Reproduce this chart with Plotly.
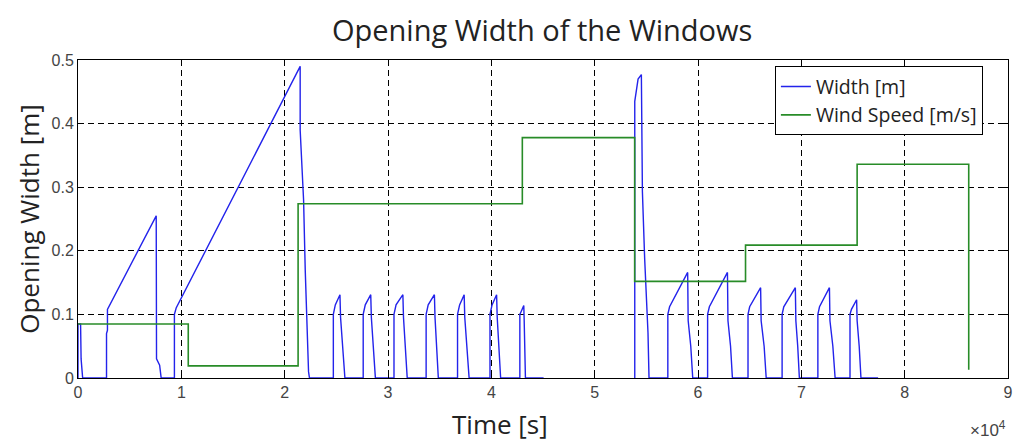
import plotly.graph_objects as go

# Time axis ticks (seconds, labelled in units of 1e4)
x_tick_vals = [0, 10000, 20000, 30000, 40000, 50000, 60000, 70000, 80000, 90000]
x_tick_text = ["0", "1", "2", "3", "4", "5", "6", "7", "8", "9"]

y_tick_vals = [0, 0.1, 0.2, 0.3, 0.4, 0.5]
y_tick_text = ["0", "0.1", "0.2", "0.3", "0.4", "0.5"]

# Window opening width [m]: (time [s], width) breakpoints; None splits the two runs
width_points = [
    (0, 0), (0, 0.085), (250, 0.085), (300, 0.03), (450, 0),
    (2760, 0), (2760, 0.07), (2850, 0.075), (2850, 0.108), (7570, 0.255),
    (7600, 0.03), (7900, 0.02), (8050, 0),
    (9330, 0), (9330, 0.10), (9500, 0.11), (21500, 0.49), (21500, 0.39),
    (21830, 0.28), (21990, 0.17), (22310, 0.01), (22400, 0),
    (24710, 0), (24710, 0.10), (24900, 0.115), (25350, 0.131), (25410, 0.095),
    (25700, 0.03), (25830, 0),
    (27600, 0), (27600, 0.10), (27800, 0.115), (28330, 0.131), (28390, 0.095),
    (28650, 0.03), (28780, 0),
    (30580, 0), (30580, 0.10), (30780, 0.115), (31440, 0.131), (31500, 0.095),
    (31730, 0.03), (31860, 0),
    (33690, 0), (33690, 0.10), (33890, 0.115), (34490, 0.131), (34550, 0.095),
    (34750, 0.03), (34870, 0),
    (36730, 0), (36730, 0.10), (36930, 0.115), (37370, 0.131), (37430, 0.095),
    (37720, 0.03), (37850, 0),
    (39870, 0), (39870, 0.10), (40070, 0.115), (40510, 0.131), (40570, 0.095),
    (40780, 0.03), (40900, 0),
    (42760, 0), (42760, 0.10), (42900, 0.105), (43140, 0.114), (43180, 0.09),
    (43250, 0.03), (43300, 0),
    (45060, 0),
    (None, None),
    (53880, 0), (53880, 0.435), (54200, 0.47), (54520, 0.477), (54620, 0.293),
    (54840, 0.187), (55160, 0.071), (55260, 0),
    (57080, 0), (57080, 0.10), (57250, 0.112), (59000, 0.166), (59050, 0.09),
    (59300, 0.05), (59490, 0),
    (60930, 0), (60930, 0.10), (61100, 0.112), (62850, 0.166), (62900, 0.09),
    (63150, 0.05), (63330, 0),
    (64840, 0), (64840, 0.10), (65000, 0.112), (66060, 0.142), (66110, 0.09),
    (66400, 0.05), (66600, 0),
    (68140, 0), (68140, 0.10), (68300, 0.112), (69420, 0.142), (69470, 0.09),
    (69650, 0.05), (69810, 0),
    (71600, 0), (71600, 0.10), (71760, 0.112), (72720, 0.142), (72770, 0.09),
    (73050, 0.05), (73270, 0),
    (74710, 0), (74710, 0.10), (74850, 0.108), (75350, 0.123), (75400, 0.09),
    (75600, 0.05), (75770, 0),
    (77430, 0),
]

# Wind speed (scaled) as a step signal: value holds from each time to the next
wind_time = [0, 10670, 21300, 43000, 53870, 64600, 75400, 86200]
wind_value = [0.085, 0.019, 0.274, 0.378, 0.152, 0.209, 0.336, 0.013]

width_time = [p[0] for p in width_points]
width_value = [p[1] for p in width_points]

fig = go.Figure()
fig.add_trace(go.Scatter(
    x=width_time, y=width_value, mode="lines", name="Width [m]",
    line=dict(color="rgb(35,35,235)", width=1.4), connectgaps=False,
))
fig.add_trace(go.Scatter(
    x=wind_time, y=wind_value, mode="lines", name="Wind Speed [m/s]",
    line=dict(color="rgb(40,140,40)", width=1.6, shape="hv"),
))

axis_common = dict(
    showline=True, linecolor="black", linewidth=1, mirror="ticks",
    showgrid=True, gridcolor="black", gridwidth=1, griddash="6px,4px",
    zeroline=False, ticks="inside", ticklen=5, tickcolor="black",
    tickfont=dict(family="Liberation Sans", size=16, color="#444"),
)

fig.update_layout(
    width=1019, height=443,
    margin=dict(l=78, r=6, t=60, b=65),
    paper_bgcolor="white", plot_bgcolor="white",
    title=dict(text="Opening Width of the Windows", x=0.532, xanchor="center",
               y=0.93, yanchor="middle",
               font=dict(family="Open Sans", size=29, color="#222")),
    xaxis=dict(range=[0, 90000], tickvals=x_tick_vals, ticktext=x_tick_text,
               **axis_common),
    yaxis=dict(range=[0, 0.5], tickvals=y_tick_vals, ticktext=y_tick_text,
               title=dict(text="Opening Width [m]", standoff=4,
                          font=dict(family="Open Sans", size=26, color="#222")),
               **axis_common),
    legend=dict(x=0.973, y=0.98, xanchor="right", yanchor="top",
                bgcolor="white", bordercolor="black", borderwidth=1,
                font=dict(family="Open Sans", size=19.5, color="#222"),
                tracegroupgap=0, itemwidth=30),
    showlegend=True,
)

fig.add_annotation(text="Time [s]", xref="paper", yref="paper",
                   x=(502 - 78) / 935, y=-0.145, xanchor="center", yanchor="middle",
                   showarrow=False,
                   font=dict(family="Open Sans", size=26, color="#222"))
fig.add_annotation(text="×10<sup>4</sup>", xref="paper", yref="paper",
                   x=1.0, y=-0.16, xanchor="right", yanchor="middle",
                   showarrow=False,
                   font=dict(family="Liberation Sans", size=17, color="#444"))

fig.write_html("out.html")
